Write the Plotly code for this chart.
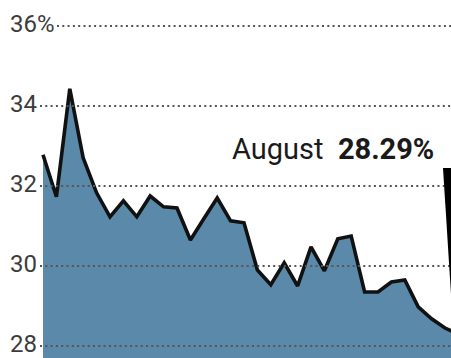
import plotly.graph_objects as go

# Monthly rate (%), last point is August at 28.29%
months = list(range(32))
rate = [32.78, 31.73, 34.43, 32.70, 31.83, 31.23, 31.63, 31.23, 31.75, 31.48,
        31.45, 30.65, 31.18, 31.70, 31.13, 31.08, 29.90, 29.53, 30.08, 29.50,
        30.48, 29.88, 30.68, 30.75, 29.35, 29.35, 29.60, 29.65, 28.98, 28.68,
        28.45, 28.29]
grid_values = [36, 34, 32, 30, 28]
grid_labels = ["36%", "34", "32", "30", "28"]
callout_month = "August"
callout_value = 28.29

W, H = 451, 358
FILL = "#5b89a9"
INK = "#3c3c3c"
FONT = "Roboto, 'Open Sans', sans-serif"

fig = go.Figure()
fig.add_trace(go.Scatter(
    x=months, y=rate, mode="lines", fill="tozeroy",
    fillcolor=FILL, line=dict(color="#111111", width=3.6),
    hoverinfo="skip", showlegend=False,
))

shapes = []
annotations = []
for v, lab in zip(grid_values, grid_labels):
    x0 = 57 / W if lab.endswith("%") else 40 / W
    shapes.append(dict(
        type="line", xref="paper", yref="y", x0=x0, x1=1, y0=v, y1=v,
        line=dict(color="#555555", width=2, dash="2px,3.3px"), layer="above",
    ))
    annotations.append(dict(
        xref="paper", yref="y", x=8 / W, y=v, xanchor="left", yanchor="middle",
        text=lab, showarrow=False, font=dict(family=FONT, size=24, color=INK),
        yshift=2,
    ))

# Callout label and pointer wedge at the right edge
annotations.append(dict(
    xref="paper", yref="paper", x=230 / W, y=1 - 149 / H,
    xanchor="left", yanchor="middle", showarrow=False,
    text=f"{callout_month}&nbsp; <b>{callout_value:.2f}%</b>",
    font=dict(family=FONT, size=29, color="#1a1a1a"),
))
px = lambda p: p / W
py = lambda p: 1 - p / H
shapes.append(dict(
    type="path", xref="paper", yref="paper",
    path=f"M {px(443)} {py(168)} L {px(452)} {py(168)} L {px(452)} {py(310)} Z",
    fillcolor="#000000", line=dict(width=0), layer="above",
))

fig.update_layout(
    width=W, height=H, autosize=False,
    margin=dict(l=0, r=0, t=0, b=0),
    paper_bgcolor="white", plot_bgcolor="white",
    xaxis=dict(range=[-43 / 13.4, 408 / 13.4], visible=False, fixedrange=True),
    yaxis=dict(range=[27.7, 36.65], visible=False, fixedrange=True),
    shapes=shapes, annotations=annotations,
)

fig.write_html("out.html", config={"displayModeBar": False})
